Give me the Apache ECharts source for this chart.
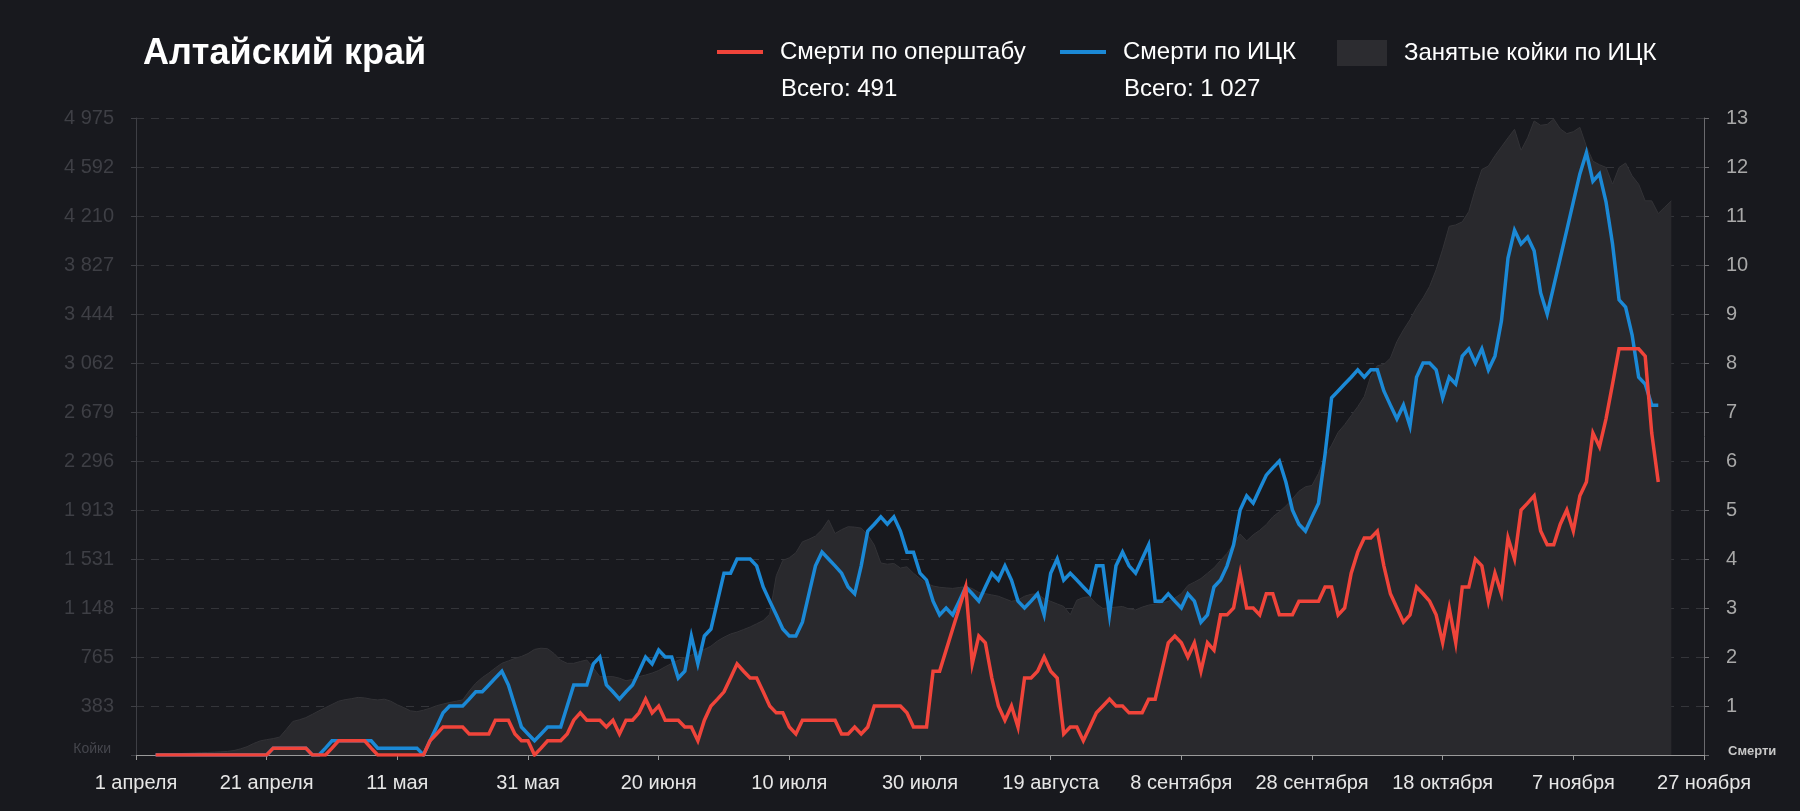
<!DOCTYPE html>
<html>
<head>
<meta charset="utf-8">
<script src="https://cdn.jsdelivr.net/npm/echarts@6/dist/echarts.min.js"></script>
<style>
html,body{margin:0;padding:0;background:#18191e;}
#chart{width:1800px;height:811px;}
</style>
</head>
<body>
<div id="chart"></div>
<script>
// ---- data (day 0 = 1 April 2020) ----
const startDate = [2020, 3, 1];
const dayCount = 241; // 1 April .. 27 November
const monthsGen = ['января','февраля','марта','апреля','мая','июня','июля','августа','сентября','октября','ноября','декабря'];

const titleText = 'Алтайский край';
const nameOper = 'Смерти по оперштабу';
const nameIck = 'Смерти по ИЦК';
const nameBeds = 'Занятые койки по ИЦК';
const totalOper = '491';
const totalIck = '1 027';

const bedTicks = ['', '383', '765', '1 148', '1 531', '1 913', '2 296', '2 679', '3 062', '3 444', '3 827', '4 210', '4 592', '4 975'];
const deathTicks = ['', '1', '2', '3', '4', '5', '6', '7', '8', '9', '10', '11', '12', '13'];

const deathsOper = [
null,null,null,0,0,0,0,0,0,0,
0,0,0,0,0,0,0,0,0,0,
0,0.14,0.14,0.14,0.14,0.14,0.14,0,0,0,
0.14,0.29,0.29,0.29,0.29,0.29,0.14,0,0,0,
0,0,0,0,0,0.29,0.43,0.57,0.57,0.57,
0.57,0.43,0.43,0.43,0.43,0.71,0.71,0.71,0.43,0.29,
0.29,0,0.14,0.29,0.29,0.29,0.43,0.71,0.86,0.71,
0.71,0.71,0.57,0.71,0.43,0.71,0.71,0.86,1.14,0.86,
1.0,0.71,0.71,0.71,0.57,0.57,0.29,0.71,1.0,1.14,
1.29,1.57,1.86,1.71,1.57,1.57,1.29,1.0,0.86,0.86,
0.57,0.43,0.71,0.71,0.71,0.71,0.71,0.71,0.43,0.43,
0.57,0.43,0.57,1.0,1.0,1.0,1.0,1.0,0.86,0.57,
0.57,0.57,1.71,1.71,2.14,2.57,3.0,3.43,1.86,2.43,
2.29,1.57,1.0,0.71,1.0,0.57,1.57,1.57,1.71,2.0,
1.71,1.57,0.43,0.57,0.57,0.29,0.57,0.86,1.0,1.14,
1.0,1.0,0.86,0.86,0.86,1.14,1.14,1.71,2.29,2.43,
2.29,2.0,2.29,1.71,2.29,2.14,2.86,2.86,3.0,3.71,
3.0,3.0,2.86,3.29,3.29,2.86,2.86,2.86,3.14,3.14,
3.14,3.14,3.43,3.43,2.86,3.0,3.71,4.14,4.43,4.43,
4.57,3.86,3.29,3.0,2.71,2.86,3.43,3.29,3.14,2.86,
2.29,3.0,2.29,3.43,3.43,4.0,3.86,3.14,3.71,3.29,
4.43,4.0,5.0,5.14,5.29,4.57,4.29,4.29,4.71,5.0,
4.57,5.29,5.57,6.57,6.29,6.86,7.57,8.29,8.29,8.29,
8.29,8.14,6.57,5.57
];

const deathsIck = [
null,null,null,0,0,0,0,0,0,0,
0,0,0,0,0,0,0,0,0,0,
0,0.14,0.14,0.14,0.14,0.14,0.14,0,0,0.14,
0.29,0.29,0.29,0.29,0.29,0.29,0.29,0.14,0.14,0.14,
0.14,0.14,0.14,0.14,0,0.29,0.57,0.86,1.0,1.0,
1.0,1.14,1.29,1.29,1.43,1.57,1.71,1.43,1.0,0.57,
0.43,0.29,0.43,0.57,0.57,0.57,1.0,1.43,1.43,1.43,
1.86,2.0,1.43,1.29,1.14,1.29,1.43,1.71,2.0,1.86,
2.14,2.0,2.0,1.57,1.71,2.43,1.86,2.43,2.57,3.14,
3.71,3.71,4.0,4.0,4.0,3.86,3.43,3.14,2.86,2.57,
2.43,2.43,2.71,3.29,3.86,4.14,4.0,3.86,3.71,3.43,
3.29,3.86,4.57,4.71,4.86,4.71,4.86,4.57,4.14,4.14,
3.71,3.57,3.14,2.86,3.0,2.86,3.14,3.43,3.29,3.14,
3.43,3.71,3.57,3.86,3.57,3.14,3.0,3.14,3.29,2.86,
3.71,4.0,3.57,3.71,3.57,3.43,3.29,3.86,3.86,2.86,
3.86,4.14,3.86,3.71,4.0,4.29,3.14,3.14,3.29,3.14,
3.0,3.29,3.14,2.71,2.86,3.43,3.57,3.86,4.29,5.0,
5.29,5.14,5.43,5.71,5.86,6.0,5.57,5.0,4.71,4.57,
4.86,5.14,6.14,7.29,7.43,7.57,7.71,7.86,7.71,7.86,
7.86,7.43,7.14,6.86,7.14,6.71,7.71,8.0,8.0,7.86,
7.29,7.71,7.57,8.14,8.29,8.0,8.29,7.86,8.14,8.86,
10.14,10.71,10.43,10.57,10.29,9.43,9.0,9.57,10.14,10.71,
11.29,11.86,12.29,11.71,11.86,11.29,10.43,9.29,9.14,8.57,
7.71,7.57,7.14,7.14
];

const bedsIck = [
null,null,null,5,6,8,10,12,14,16,
18,20,22,25,28,35,48,65,90,110,
120,128,140,200,262,275,292,318,345,370,
395,420,432,440,450,446,436,430,436,420,
392,370,345,338,350,365,385,398,410,420,
430,500,560,605,640,680,716,735,754,770,
792,825,834,830,792,740,716,716,730,742,
680,612,612,612,600,580,590,612,625,640,
660,689,715,740,760,780,805,825,850,890,
920,945,960,980,1000,1025,1050,1100,1400,1520,
1540,1580,1665,1685,1710,1760,1837,1730,1760,1783,
1780,1772,1720,1640,1500,1490,1496,1460,1470,1420,
1378,1340,1320,1310,1305,1301,1308,1316,1300,1270,
1260,1250,1240,1220,1200,1210,1240,1255,1260,1220,
1200,1180,1160,1095,1209,1230,1236,1180,1144,1150,
1155,1160,1140,1133,1155,1171,1178,1186,1200,1225,
1260,1324,1350,1378,1420,1462,1520,1575,1650,1726,
1672,1720,1755,1800,1860,1900,1945,2000,2060,2095,
2105,2200,2330,2420,2520,2580,2650,2720,2800,2960,
3040,3050,3100,3230,3320,3400,3494,3570,3660,3790,
3950,4129,4140,4164,4244,4420,4573,4600,4680,4750,
4820,4887,4722,4820,4952,4918,4925,4967,4890,4853,
4868,4902,4753,4638,4610,4589,4458,4589,4623,4523,
4458,4328,4328,4229,4279,4328
];

// ---- categories ----
const categories = [];
for (let i = 0; i < dayCount; i++) {
  const d = new Date(startDate[0], startDate[1], startDate[2] + i);
  categories.push(d.getDate() + ' ' + monthsGen[d.getMonth()]);
}

const FONT = '"Liberation Sans", Arial, sans-serif';
const RED = '#f0443a';
const BLUE = '#1b89d6';
const AREA = '#29292d';

const chart = echarts.init(document.getElementById('chart'), null, {renderer: 'canvas'});
const bedMax = 4975;

const legendText = {color: '#ffffff', fontSize: 24, lineHeight: 28, fontFamily: FONT, padding: [0,0,0,12]};

chart.setOption({
  backgroundColor: '#18191e',
  animation: false,
  textStyle: {fontFamily: FONT},
  title: {
    text: titleText, left: 143, top: 34, padding: 0,
    textStyle: {color: '#ffffff', fontSize: 36, lineHeight: 40, fontWeight: 'bold', fontFamily: FONT}
  },
  legend: [
    {data: [{name: nameOper, icon: 'rect'}], left: 717, top: 38, itemWidth: 46, itemHeight: 4, padding: 0, selectedMode: false,
     textStyle: legendText},
    {data: [{name: nameIck, icon: 'rect'}], left: 1060, top: 38, itemWidth: 46, itemHeight: 4, padding: 0, selectedMode: false,
     textStyle: legendText},
    {data: [{name: nameBeds, icon: 'rect'}], left: 1337, top: 39, itemWidth: 50, itemHeight: 26, padding: 0, selectedMode: false,
     itemStyle: {color: '#2c2c30'},
     textStyle: legendText}
  ],
  graphic: [
    {type: 'text', x: 781, y: 89, style: {text: 'Всего: ' + totalOper, fill: '#ffffff', font: '24px ' + FONT, verticalAlign: 'middle'}},
    {type: 'text', x: 1124, y: 89, style: {text: 'Всего: ' + totalIck, fill: '#ffffff', font: '24px ' + FONT, verticalAlign: 'middle'}},
    {type: 'text', x: 111, y: 749, style: {text: 'Койки', fill: '#45464d', font: '14px ' + FONT, align: 'right', verticalAlign: 'middle'}},
    {type: 'text', x: 1728, y: 751, style: {text: 'Смерти', fill: '#c8c8c8', font: 'bold 13px ' + FONT, align: 'left', verticalAlign: 'middle'}}
  ],
  grid: {left: 136, right: 96, top: 118, bottom: 56},
  xAxis: {
    type: 'category', data: categories, boundaryGap: false,
    axisLine: {show: true, lineStyle: {color: '#9a9a9a', width: 1}},
    axisTick: {show: true, interval: 19, length: 5, lineStyle: {color: '#9a9a9a'}},
    axisLabel: {interval: 19, color: '#e6e6e6', fontSize: 20, margin: 18, fontFamily: FONT},
    splitLine: {show: false}
  },
  yAxis: [
    {
      type: 'value', min: 0, max: bedMax, interval: bedMax / 13, position: 'left',
      axisLine: {show: true, lineStyle: {color: '#3e3f45'}},
      axisTick: {show: true, length: 5, lineStyle: {color: '#3e3f45'}},
      axisLabel: {color: '#3e3f45', fontSize: 20, margin: 22, fontFamily: FONT,
        formatter: (v, i) => bedTicks[i] !== undefined ? bedTicks[i] : ''},
      splitLine: {show: true, lineStyle: {color: '#34353a', type: [8, 7], width: 1}}
    },
    {
      type: 'value', min: 0, max: 13, interval: 1, position: 'right',
      axisLine: {show: true, lineStyle: {color: '#6a6a6e'}},
      axisTick: {show: true, length: 5, lineStyle: {color: '#6a6a6e'}},
      axisLabel: {color: '#a8a8a8', fontSize: 20, margin: 22, fontFamily: FONT,
        formatter: (v, i) => deathTicks[i] !== undefined ? deathTicks[i] : ''},
      splitLine: {show: false}
    }
  ],
  series: [
    {
      name: nameBeds, type: 'line', yAxisIndex: 0, data: bedsIck,
      symbol: 'none', showSymbol: false, z: 1,
      itemStyle: {color: '#2c2c30'},
      lineStyle: {color: '#333337', width: 1},
      areaStyle: {color: AREA, opacity: 1}
    },
    {
      name: nameIck, type: 'line', yAxisIndex: 1, data: deathsIck,
      symbol: 'none', showSymbol: false, z: 3,
      itemStyle: {color: BLUE},
      lineStyle: {color: BLUE, width: 3.5, join: 'miter'}
    },
    {
      name: nameOper, type: 'line', yAxisIndex: 1, data: deathsOper,
      symbol: 'none', showSymbol: false, z: 4,
      itemStyle: {color: RED},
      lineStyle: {color: RED, width: 3.5, join: 'miter'}
    }
  ]
});
</script>
</body>
</html>
